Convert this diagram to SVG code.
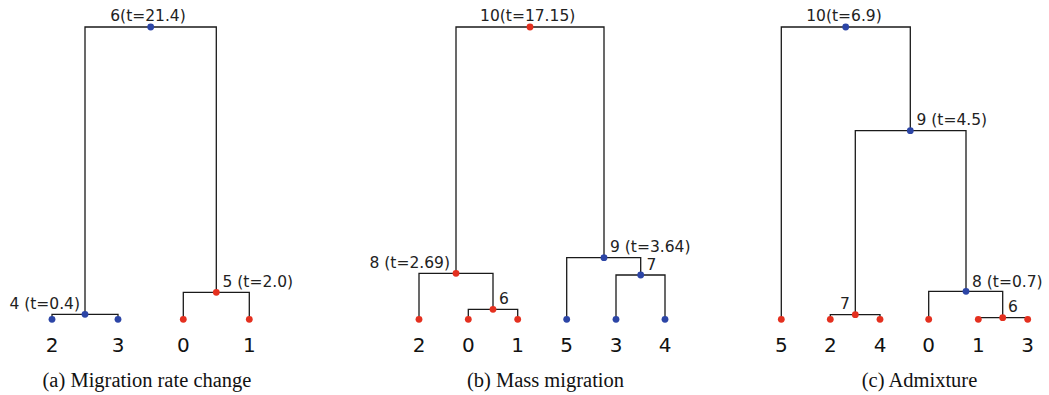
<svg xmlns="http://www.w3.org/2000/svg" width="1049" height="395" viewBox="0 0 1049 395">
<style>
.e{fill:none;stroke:#1a1a1a;stroke-width:1.3}
.b{fill:#2c45a6}
.r{fill:#e4301f}
.lbl{font-family:"DejaVu Sans",sans-serif;font-size:15.5px;fill:#222}
.leaf{font-family:"DejaVu Sans",sans-serif;font-size:20px;fill:#111;text-anchor:middle}
.cap{font-family:"Liberation Serif",serif;font-size:20.5px;fill:#111;text-anchor:middle}
</style>
<rect width="1049" height="395" fill="#fff"/>
<g id="connectors">
<path class="e" d="M85,314.3 V27 H216.3 V292.3"/>
<path class="e" d="M52,319.3 V314.3 H118 V319.3"/>
<path class="e" d="M183.3,319.3 V292.3 H249.3 V319.3"/>
<path class="e" d="M456,273.3 V27 H604 V257.7"/>
<path class="e" d="M419,319.3 V273.3 H493 V309.3"/>
<path class="e" d="M468.3,319.3 V309.3 H517.7 V319.3"/>
<path class="e" d="M566.7,319.3 V257.7 H640.7 V275"/>
<path class="e" d="M616,319.3 V275 H665 V319.3"/>
<path class="e" d="M781.3,319.3 V27 H910.3 V130.7"/>
<path class="e" d="M855.3,314.7 V130.7 H966 V291.3"/>
<path class="e" d="M830.3,319.3 V314.7 H880 V319.3"/>
<path class="e" d="M928.7,319.3 V291.3 H1002.7 V317.7"/>
<path class="e" d="M978.3,319.3 V317.7 H1027.7 V319.3"/>
</g>
<!-- panel a -->
<g id="a-node6"><circle class="b" cx="150.7" cy="27" r="3.4"/><text class="lbl" x="148" y="21" text-anchor="middle">6(t=21.4)</text></g>
<g id="a-node4"><circle class="b" cx="85" cy="314.3" r="3.4"/><text class="lbl" x="80" y="309" text-anchor="end">4 (t=0.4)</text></g>
<g id="a-node5"><circle class="r" cx="216.3" cy="292.3" r="3.4"/><text class="lbl" x="222.5" y="287">5 (t=2.0)</text></g>
<g id="a-leaf2"><circle class="b" cx="52" cy="319.3" r="3.4"/><text class="leaf" x="52" y="352">2</text></g>
<g id="a-leaf3"><circle class="b" cx="118" cy="319.3" r="3.4"/><text class="leaf" x="118" y="352">3</text></g>
<g id="a-leaf0"><circle class="r" cx="183.3" cy="319.3" r="3.4"/><text class="leaf" x="183.3" y="352">0</text></g>
<g id="a-leaf1"><circle class="r" cx="249.3" cy="319.3" r="3.4"/><text class="leaf" x="249.3" y="352">1</text></g>
<text id="cap-a" class="cap" x="147" y="387">(a) Migration rate change</text>
<!-- panel b -->
<g id="b-node10"><circle class="r" cx="530" cy="27" r="3.4"/><text class="lbl" x="527.7" y="21" text-anchor="middle">10(t=17.15)</text></g>
<g id="b-node8"><circle class="r" cx="456" cy="273.3" r="3.4"/><text class="lbl" x="450" y="268" text-anchor="end">8 (t=2.69)</text></g>
<g id="b-node6"><circle class="r" cx="493" cy="309.3" r="3.4"/><text class="lbl" x="499" y="304">6</text></g>
<g id="b-node9"><circle class="b" cx="604" cy="257.7" r="3.4"/><text class="lbl" x="610" y="252">9 (t=3.64)</text></g>
<g id="b-node7"><circle class="b" cx="640.7" cy="275" r="3.4"/><text class="lbl" x="646.5" y="270">7</text></g>
<g id="b-leaf2"><circle class="r" cx="419" cy="319.3" r="3.4"/><text class="leaf" x="419" y="352">2</text></g>
<g id="b-leaf0"><circle class="r" cx="468.3" cy="319.3" r="3.4"/><text class="leaf" x="468.3" y="352">0</text></g>
<g id="b-leaf1"><circle class="r" cx="517.7" cy="319.3" r="3.4"/><text class="leaf" x="517.7" y="352">1</text></g>
<g id="b-leaf5"><circle class="b" cx="566.7" cy="319.3" r="3.4"/><text class="leaf" x="566.7" y="352">5</text></g>
<g id="b-leaf3"><circle class="b" cx="616" cy="319.3" r="3.4"/><text class="leaf" x="616" y="352">3</text></g>
<g id="b-leaf4"><circle class="b" cx="665" cy="319.3" r="3.4"/><text class="leaf" x="665" y="352">4</text></g>
<text id="cap-b" class="cap" x="545.5" y="387">(b) Mass migration</text>
<!-- panel c -->
<g id="c-node10"><circle class="b" cx="845.7" cy="27" r="3.4"/><text class="lbl" x="844" y="21" text-anchor="middle">10(t=6.9)</text></g>
<g id="c-node9"><circle class="b" cx="910.3" cy="130.7" r="3.4"/><text class="lbl" x="916.5" y="125">9 (t=4.5)</text></g>
<g id="c-node7"><circle class="r" cx="855.3" cy="314.7" r="3.4"/><text class="lbl" x="840" y="309">7</text></g>
<g id="c-node8"><circle class="b" cx="966" cy="291.3" r="3.4"/><text class="lbl" x="972" y="286.5">8 (t=0.7)</text></g>
<g id="c-node6"><circle class="r" cx="1002.7" cy="317.7" r="3.4"/><text class="lbl" x="1008" y="312">6</text></g>
<g id="c-leaf5"><circle class="r" cx="781.3" cy="319.3" r="3.4"/><text class="leaf" x="781.3" y="352">5</text></g>
<g id="c-leaf2"><circle class="r" cx="830.3" cy="319.3" r="3.4"/><text class="leaf" x="830.3" y="352">2</text></g>
<g id="c-leaf4"><circle class="r" cx="880" cy="319.3" r="3.4"/><text class="leaf" x="880" y="352">4</text></g>
<g id="c-leaf0"><circle class="r" cx="928.7" cy="319.3" r="3.4"/><text class="leaf" x="928.7" y="352">0</text></g>
<g id="c-leaf1"><circle class="r" cx="978.3" cy="319.3" r="3.4"/><text class="leaf" x="978.3" y="352">1</text></g>
<g id="c-leaf3"><circle class="r" cx="1027.7" cy="319.3" r="3.4"/><text class="leaf" x="1027.7" y="352">3</text></g>
<text id="cap-c" class="cap" x="919.5" y="387">(c) Admixture</text>
</svg>
